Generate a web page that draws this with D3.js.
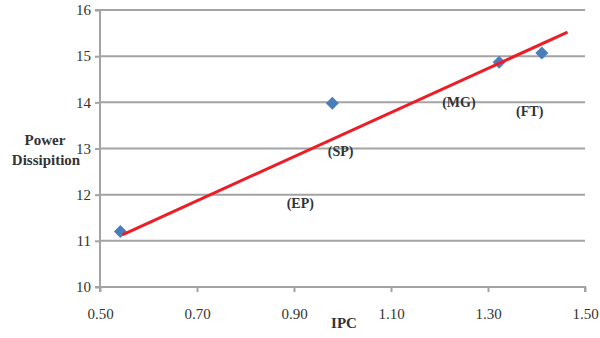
<!DOCTYPE html>
<html>
<head>
<meta charset="utf-8">
<script src="https://cdn.jsdelivr.net/npm/d3@7"></script>
<style>
  html, body { margin: 0; padding: 0; background: #fff; }
  svg { display: block; }
  text { font-family: "Liberation Serif", "Times New Roman", serif; }
</style>
</head>
<body>
<svg id="chart" width="600" height="338"></svg>
<script>
// IPC vs. power dissipation for four configurations
const ipc = [0.542, 0.979, 1.323, 1.411];
const power = [11.2, 13.98, 14.87, 15.07];

// Linear trend line end points
const trendIpc = [0.546, 1.464];
const trendPower = [11.13, 15.52];

// Configuration labels and where they are anchored (data units)
const labelNames = ["(EP)", "(SP)", "(MG)", "(FT)"];
const labelIpc = [0.913, 0.996, 1.240, 1.386];
const labelPower = [11.82, 12.94, 14.01, 13.80];

const xTicks = [0.5, 0.7, 0.9, 1.1, 1.3, 1.5];
const yTicks = [10, 11, 12, 13, 14, 15, 16];

const svg = d3.select("#chart");
const margin = { left: 100, right: 15, top: 10, bottom: 51 };
const W = 600, H = 338;

const x = d3.scaleLinear().domain([0.5, 1.5]).range([margin.left, W - margin.right]);
const y = d3.scaleLinear().domain([10, 16]).range([H - margin.bottom, margin.top]);

const gridColor = "#a3a3a3";
const textColor = "#333";

// Horizontal gridlines
svg.append("g")
  .selectAll("line")
  .data(yTicks.slice(1))
  .join("line")
  .attr("x1", x(0.5)).attr("x2", x(1.5))
  .attr("y1", d => y(d)).attr("y2", d => y(d))
  .attr("stroke", gridColor).attr("stroke-width", 2);

// Y axis
const yAxis = svg.append("g")
  .attr("transform", `translate(${x(0.5)},0)`)
  .call(d3.axisLeft(y).tickValues(yTicks).tickFormat(d3.format("d")).tickSize(5).tickPadding(4));

// X axis
const xAxis = svg.append("g")
  .attr("transform", `translate(0,${y(10)})`)
  .call(d3.axisBottom(x).tickValues(xTicks).tickFormat(d3.format(".2f")).tickSize(5).tickPadding(16));

[yAxis, xAxis].forEach(a => {
  a.select(".domain").attr("stroke", gridColor).attr("stroke-width", 2);
  a.selectAll(".tick line").attr("stroke", gridColor).attr("stroke-width", 2);
  a.selectAll(".tick text")
    .attr("fill", textColor)
    .style("font-size", "15px")
    .style("font-family", "'Liberation Serif', serif");
});
yAxis.select(".domain").attr("d", `M-5,${y(10)}H0V${y(16)}H-5`);
xAxis.select(".domain").attr("d", `M${x(0.5)},5V0H${x(1.5)}V5`);

// Data points (diamonds)
const pts = ipc.map((v, i) => ({ x: v, y: power[i] }));
const s = 6.5;
svg.append("g")
  .selectAll("path")
  .data(pts)
  .join("path")
  .attr("d", d => {
    const cx = x(d.x), cy = y(d.y);
    return `M${cx},${cy - s}L${cx + s},${cy}L${cx},${cy + s}L${cx - s},${cy}Z`;
  })
  .attr("fill", "#4a7ebb");

// Trend line
svg.append("line")
  .attr("x1", x(trendIpc[0])).attr("y1", y(trendPower[0]))
  .attr("x2", x(trendIpc[1])).attr("y2", y(trendPower[1]))
  .attr("stroke", "#ee1c25").attr("stroke-width", 3);

// Configuration labels
svg.append("g")
  .selectAll("text")
  .data(labelNames)
  .join("text")
  .attr("x", (d, i) => x(labelIpc[i]))
  .attr("y", (d, i) => y(labelPower[i]))
  .attr("dy", "0.35em")
  .attr("text-anchor", "middle")
  .attr("font-weight", "bold")
  .attr("font-size", 14)
  .attr("fill", textColor)
  .text(d => d);

// Axis titles
svg.append("text")
  .attr("x", 344).attr("y", 328)
  .attr("text-anchor", "middle")
  .attr("font-weight", "bold").attr("font-size", 15)
  .attr("fill", textColor)
  .text("IPC");

const yt = svg.append("text")
  .attr("text-anchor", "middle")
  .attr("font-weight", "bold").attr("font-size", 15)
  .attr("fill", textColor);
yt.append("tspan").attr("x", 45).attr("y", 145).text("Power");
yt.append("tspan").attr("x", 46).attr("y", 165).text("Dissipition");
</script>
</body>
</html>
